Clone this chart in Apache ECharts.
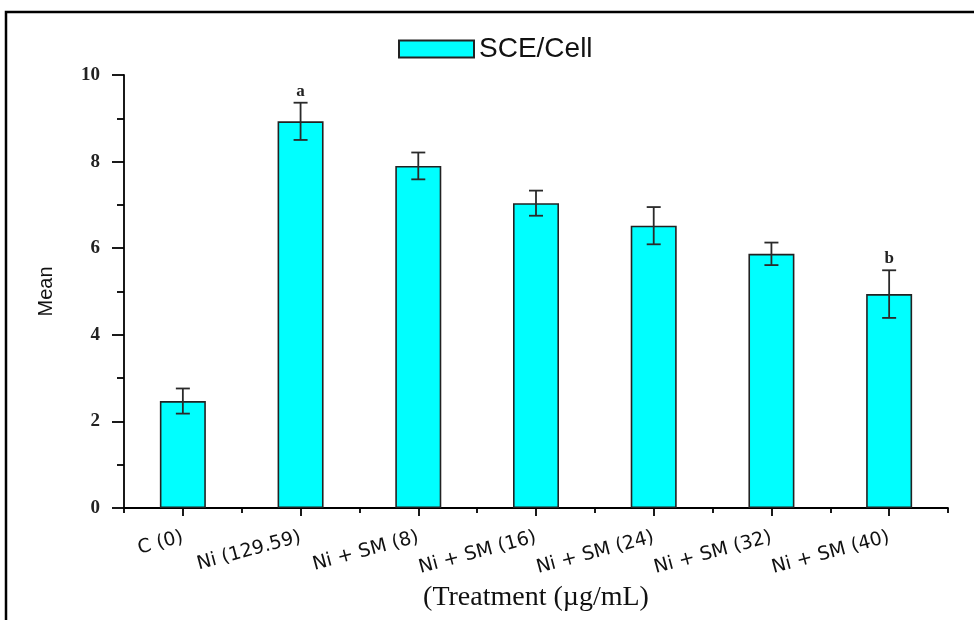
<!DOCTYPE html>
<html>
<head>
<meta charset="utf-8">
<title>SCE/Cell</title>
<script src="https://cdn.jsdelivr.net/npm/echarts@6/dist/echarts.min.js"></script>
<style>
  html, body { margin: 0; padding: 0; background: #fff; }
  #chart_1 { width: 974px; height: 620px; }
</style>
</head>
<body>
<div id="chart_1"></div>
<script>
// data
var categories = ["C (0)", "Ni (129.59)", "Ni + SM (8)", "Ni + SM (16)", "Ni + SM (24)", "Ni + SM (32)", "Ni + SM (40)"];
var meanValues = [2.47, 8.93, 7.90, 7.04, 6.52, 5.87, 4.94];
var errorValues = [0.29, 0.43, 0.31, 0.29, 0.43, 0.26, 0.55];
var sigLetters = ["", "a", "", "", "", "", "b"];
var yMin = 0;
var yMax = 10;
var yStep = 2;

// error bar rows: [index, low, high]
var errorData = meanValues.map(function (v, i) {
  return [i, v - errorValues[i], v + errorValues[i]];
});

function renderError(params, api) {
  var i = api.value(0);
  var lo = api.coord([i, api.value(1)]);
  var hi = api.coord([i, api.value(2)]);
  var cap = 7;
  var style = { stroke: "#2a2a2a", lineWidth: 1.8 };
  var children = [
    { type: "line", shape: { x1: hi[0], y1: hi[1], x2: lo[0], y2: lo[1] }, style: style },
    { type: "line", shape: { x1: hi[0] - cap, y1: hi[1], x2: hi[0] + cap, y2: hi[1] }, style: style },
    { type: "line", shape: { x1: lo[0] - cap, y1: lo[1], x2: lo[0] + cap, y2: lo[1] }, style: style }
  ];
  if (sigLetters[i]) {
    children.push({
      type: "text",
      x: hi[0],
      y: hi[1] - 3,
      style: {
        text: sigLetters[i],
        fill: "#222",
        fontSize: 17,
        fontWeight: "bold",
        fontFamily: "Liberation Serif",
        align: "center",
        verticalAlign: "bottom"
      }
    });
  }
  return { type: "group", children: children };
}

var chartDom = document.getElementById("chart_1");
var myChart = echarts.init(chartDom);

var option = {
  animation: false,
  backgroundColor: "#fff",
  graphic: [
    {
      type: "rect",
      silent: true,
      shape: { x: 6, y: 12, width: 1000, height: 700 },
      style: { fill: "none", stroke: "#000", lineWidth: 2.5 }
    }
  ],
  legend: {
    left: 393,
    top: 30,
    itemWidth: 75,
    itemHeight: 17,
    icon: "rect",
    data: ["SCE/Cell"],
    textStyle: {
      fontFamily: "Liberation Sans",
      fontSize: 28,
      color: "#111"
    }
  },
  grid: {
    left: 124,
    right: 26,
    top: 75,
    bottom: 112,
    containLabel: false,
    outerBoundsMode: "none"
  },
  xAxis: [
    {
      type: "category",
      data: categories,
      name: "(Treatment (\u00b5g/mL)",
      nameLocation: "middle",
      nameGap: 76,
      nameTextStyle: { fontFamily: "Liberation Serif", fontSize: 28, color: "#111" },
      axisLine: { lineStyle: { color: "#000", width: 1.8 } },
      axisTick: { show: true, length: 5, lineStyle: { color: "#000", width: 1.8 } },
      axisLabel: {
        interval: 0,
        rotate: 15,
        margin: 29,
        fontFamily: "DejaVu Sans",
        fontSize: 19,
        color: "#111"
      }
    },
    {
      // second axis only for the longer ticks under each bar
      type: "category",
      data: categories,
      position: "bottom",
      axisLine: { show: false },
      axisLabel: { show: false },
      axisTick: { show: true, alignWithLabel: true, length: 8, lineStyle: { color: "#000", width: 1.8 } }
    }
  ],
  yAxis: {
    type: "value",
    min: yMin,
    max: yMax,
    interval: yStep,
    name: "Mean",
    nameLocation: "middle",
    nameGap: 68,
    nameTextStyle: { fontFamily: "Liberation Sans", fontSize: 20, color: "#111" },
    axisLine: { show: true, lineStyle: { color: "#000", width: 1.8 } },
    axisTick: { show: true, length: 12, lineStyle: { color: "#000", width: 1.8 } },
    minorTick: { show: true, splitNumber: 2, length: 7, lineStyle: { color: "#000", width: 1.8 } },
    splitLine: { show: false },
    axisLabel: {
      margin: 24,
      fontFamily: "Liberation Serif",
      fontSize: 19,
      fontWeight: "bold",
      color: "#222"
    }
  },
  series: [
    {
      name: "SCE/Cell",
      type: "bar",
      data: meanValues,
      barWidth: 46,
      itemStyle: { color: "#00FFFF", borderColor: "#222", borderWidth: 1.6 }
    },
    {
      name: "error",
      type: "custom",
      renderItem: renderError,
      data: errorData,
      encode: { x: 0, y: [1, 2] },
      z: 10
    }
  ]
};

myChart.setOption(option);
</script>
</body>
</html>
